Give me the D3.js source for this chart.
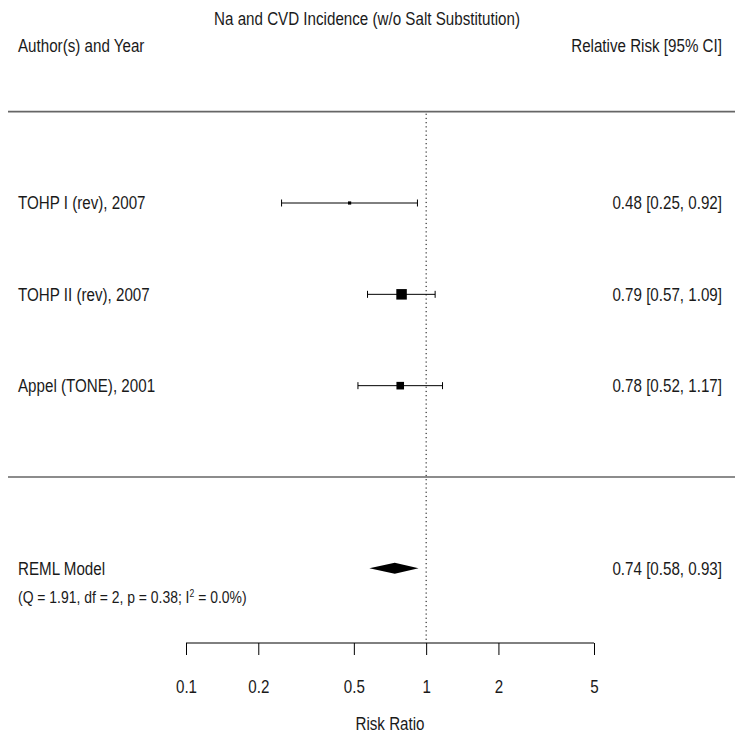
<!DOCTYPE html>
<html>
<head>
<meta charset="utf-8">
<script src="https://cdn.jsdelivr.net/npm/d3@7"></script>
<style>
  html, body { margin: 0; padding: 0; background: #fff; }
  svg text { font-family: "Liberation Sans", Arial, sans-serif; fill: #1a1a1a; }
</style>
</head>
<body>
<svg id="chart" width="735" height="734"></svg>
<script>
// ---- data ----
const studies = ["TOHP I (rev), 2007", "TOHP II (rev), 2007", "Appel (TONE), 2001"];
const estimates = [0.48, 0.79, 0.78];
const ciLower = [0.25, 0.57, 0.52];
const ciUpper = [0.92, 1.09, 1.17];
const studyRows = [3, 2, 1];
const summaryLabel = "REML Model";
const summaryEst = [0.74];
const summaryLower = [0.58];
const summaryUpper = [0.93];
const summaryRow = -1;
const axisTicks = [0.1, 0.2, 0.5, 1, 2, 5];
const titleText = "Na and CVD Incidence (w/o Salt Substitution)";
const leftHeader = "Author(s) and Year";
const rightHeader = "Relative Risk [95% CI]";
const xLabel = "Risk Ratio";

const fmt = d3.format(".2f");
const svg = d3.select("#chart");
const SX = 0.82;     // narrow-font look
const FS = 18.5;

const x = d3.scaleLog().domain([0.1, 5]).range([186, 594]);
const y = d3.scaleLinear().domain([0, 3]).range([477, 203]);
const axisY = 643;
const leftX = 18, rightX = 722;

function addText(px, py, str, anchor = "start", size = FS, dy = "0.35em") {
  return svg.append("text")
    .attr("transform", `translate(${px},${py}) scale(${SX},1)`)
    .attr("dy", dy).attr("text-anchor", anchor).attr("font-size", size).text(str);
}

// precision -> square size
const prec = estimates.map((e, i) => 3.92 / Math.log(ciUpper[i] / ciLower[i]));
const sizeScale = d3.scaleLinear().domain(d3.extent(prec)).range([3.2, 10.5]);

// title & headers
addText(367, 19, titleText, "middle", FS);
addText(leftX, 46, leftHeader, "start", FS);
addText(rightX, 46, rightHeader, "end", FS);

// horizontal separator lines
[4, 0].forEach(r => {
  svg.append("line").attr("x1", 8).attr("x2", 735).attr("y1", y(r)).attr("y2", y(r))
    .attr("stroke", "#666").attr("stroke-width", 1.6);
});

// reference line at 1
svg.append("line").attr("x1", x(1)).attr("x2", x(1)).attr("y1", y(4) + 2).attr("y2", axisY)
  .attr("stroke", "#000").attr("stroke-width", 1).attr("stroke-dasharray", "1.2,3");

// studies
studies.forEach((s, i) => {
  const yy = y(studyRows[i]);
  addText(leftX, yy, s);
  addText(rightX, yy, `${fmt(estimates[i])} [${fmt(ciLower[i])}, ${fmt(ciUpper[i])}]`, "end");
  svg.append("line").attr("x1", x(ciLower[i])).attr("x2", x(ciUpper[i])).attr("y1", yy).attr("y2", yy)
    .attr("stroke", "#000").attr("stroke-width", 1);
  [ciLower[i], ciUpper[i]].forEach(v => {
    svg.append("line").attr("x1", x(v)).attr("x2", x(v)).attr("y1", yy - 3.5).attr("y2", yy + 3.5)
      .attr("stroke", "#000").attr("stroke-width", 1);
  });
  const sz = sizeScale(prec[i]);
  svg.append("rect").attr("x", x(estimates[i]) - sz / 2).attr("y", yy - sz / 2)
    .attr("width", sz).attr("height", sz).attr("fill", "#000");
});

// summary
const ys = y(summaryRow);
addText(leftX, ys, summaryLabel);
const stat = addText(leftX, ys + 29, "", "start", 17);
stat.append("tspan").text("(Q = 1.91, df = 2, p = 0.38; I");
stat.append("tspan").attr("dy", -6).attr("font-size", 10.5).text("2");
stat.append("tspan").attr("dy", 6).text(" = 0.0%)");
addText(rightX, ys, `${fmt(summaryEst[0])} [${fmt(summaryLower[0])}, ${fmt(summaryUpper[0])}]`, "end");
svg.append("polygon")
  .attr("points", [[x(summaryLower[0]), ys], [x(summaryEst[0]), ys - 5.5], [x(summaryUpper[0]), ys], [x(summaryEst[0]), ys + 5.5]].map(p => p.join(",")).join(" "))
  .attr("fill", "#000");

// axis
const axis = d3.axisBottom(x).tickValues(axisTicks).tickFormat(d => String(d)).tickSize(12).tickPadding(25);
const ax = svg.append("g").attr("transform", `translate(0,${axisY})`).call(axis);
ax.select(".domain").attr("d", `M${x(0.1)},0H${x(5)}`).attr("stroke", "#000");
ax.selectAll(".tick line").attr("stroke", "#000");
ax.selectAll(".tick text").attr("font-size", FS).attr("fill", "#1a1a1a")
  .attr("transform", `scale(${SX},1)`)
  .style("font-family", '"Liberation Sans", Arial, sans-serif');
addText((x(0.1) + x(5)) / 2, 724, xLabel, "middle", FS);
</script>
</body>
</html>
